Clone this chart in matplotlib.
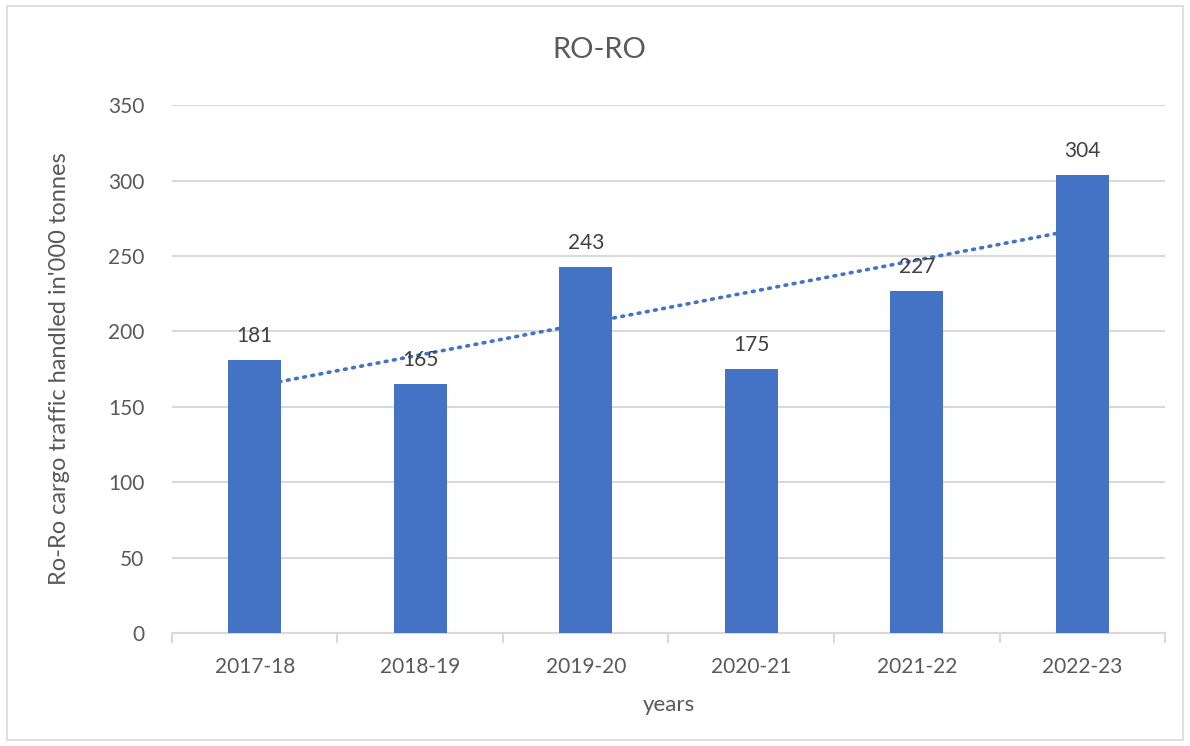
import matplotlib.pyplot as plt
import numpy as np
from matplotlib.patches import Rectangle

plt.rcParams['font.family'] = ['Lato', 'DejaVu Sans']

# --- data
years = ["2017-18", "2018-19", "2019-20", "2020-21", "2021-22", "2022-23"]
traffic = [181, 165, 243, 175, 227, 304]

text_color = "#595959"
bar_color = "#4472C4"
grid_color = "#D9D9D9"

fig = plt.figure(figsize=(11.9, 7.46), dpi=100)
ax = fig.add_axes([0.1445, 0.1515, 0.8345, 0.7075])

x = np.arange(len(years))
ax.bar(x, traffic, width=0.32, color=bar_color, zorder=3)

# linear trendline (Excel-style)
coef = np.polyfit(x, traffic, 1)
ax.plot(x, np.polyval(coef, x), color=bar_color, lw=2.6, ls=(0, (0.5, 1.8)),
        dash_capstyle="round", zorder=2)

for xi, v in zip(x, traffic):
    ax.annotate(f"{v}", xy=(xi, v), xytext=(0, 10), textcoords="offset points",
                ha="center", va="bottom", fontsize=15, color="#404040", zorder=4)

ax.set_xlim(-0.5, len(years) - 0.5)
ax.set_ylim(0, 350)
ax.set_yticks(range(0, 351, 50))
ax.set_xticks(x)
ax.set_xticklabels(years)
ax.set_xticks(np.arange(-0.5, len(years), 1), minor=True)
ax.tick_params(axis="x", which="major", length=0, pad=17, labelsize=15, labelcolor=text_color)
ax.tick_params(axis="x", which="minor", length=7, color=grid_color, width=1.5)
ax.tick_params(axis="y", length=0, pad=20, labelsize=15, labelcolor=text_color)

ax.grid(axis="y", color=grid_color, lw=1.5, zorder=0)
ax.set_axisbelow(True)
for s in ["top", "right", "left"]:
    ax.spines[s].set_visible(False)
ax.spines["bottom"].set_color(grid_color)
ax.spines["bottom"].set_linewidth(1.5)

fig.text(0.504, 0.933, "RO-RO", fontsize=21, color=text_color, ha="center", va="center")
ax.set_xlabel("years", fontsize=16, color=text_color, labelpad=13)
ax.set_ylabel("Ro-Ro cargo traffic handled in'000 tonnes", fontsize=17, color=text_color, labelpad=27)

fig.patches.append(Rectangle((0.006, 0.008), 0.988, 0.984, transform=fig.transFigure,
                             fill=False, edgecolor="#D9D9D9", lw=1.2))

fig.savefig("out.png", dpi=100, facecolor="white")
